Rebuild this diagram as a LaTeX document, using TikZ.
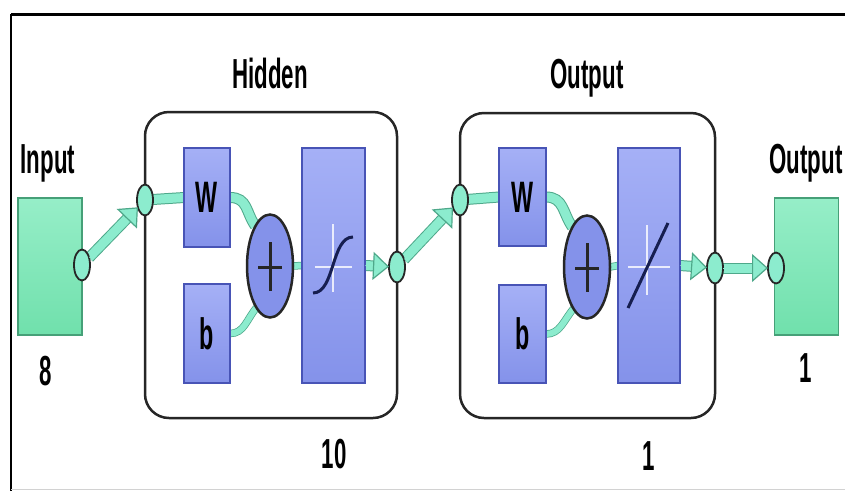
\documentclass[tikz,border=0pt]{standalone}
\usepackage{fontspec}
\setmainfont{Liberation Sans}
\usetikzlibrary{shapes.geometric,arrows.meta}
\pgfdeclarelayer{bg}
\pgfsetlayers{bg,main}
\definecolor{blk}{RGB}{132,146,234}
\definecolor{blkL}{RGB}{165,176,246}
\definecolor{blkD}{RGB}{72,84,182}
\definecolor{grnF}{RGB}{112,224,172}
\definecolor{grnL}{RGB}{150,238,200}
\definecolor{grnD}{RGB}{70,160,120}
\definecolor{wireG}{RGB}{140,236,206}
\definecolor{wireD}{RGB}{78,168,138}
\definecolor{ink}{RGB}{38,38,38}
\definecolor{navy}{RGB}{22,30,80}
\newcommand\narrow[1]{\scalebox{0.53}[1]{#1}}
\begin{document}
\begin{tikzpicture}[x=1pt,y=-1pt,
  lbl/.style={font=\fontsize{42}{42}\selectfont\bfseries, inner sep=0pt, anchor=base},
  blk/.style={draw=blkD, line width=1.5pt, top color=blkL, bottom color=blk, inner sep=0pt, outer sep=0pt, font=\fontsize{44}{44}\selectfont\bfseries},
  layer/.style={draw=ink, line width=2.5pt, rounded corners=24pt, fill=white, inner sep=0pt, outer sep=0pt},
  port/.style={ellipse, draw=ink, line width=1.8pt, fill=wireG, minimum width=16pt, minimum height=31pt, inner sep=0pt, outer sep=0pt},
  sum/.style={ellipse, draw=ink, line width=2.5pt, fill=blk, minimum width=46pt, minimum height=103pt, inner sep=0pt, outer sep=0pt},
  iobox/.style={draw=grnD, line width=1.5pt, top color=grnL, bottom color=grnF, inner sep=0pt, outer sep=0pt, minimum width=64pt, minimum height=137pt},
  wire/.style={line width=9pt, draw=wireG, preaction={draw=wireD, line width=11pt}},
  wirethin/.style={line width=6pt, draw=wireG, preaction={draw=wireD, line width=7.5pt}},
  tip/.style={draw=wireG, line width=0.5pt, -{Triangle[length=16pt,width=28pt,line width=1.2pt,color=wireD,fill=wireG]}},
  cross/.style={draw=white, line width=1.2pt, opacity=0.8},
]
\useasboundingbox (0,0) rectangle (845,491);
\begin{pgfonlayer}{bg}
  \fill[white] (0,0) rectangle (845,491);
  \draw[line width=3pt] (11,14) -- (845,14);
  \draw[line width=1.5pt] (11,14) -- (11,491);
  \draw[gray!35, line width=1pt] (11,489) -- (845,489);
  \node[layer, minimum width=252pt, minimum height=306pt] (L1) at (271,265) {};
  \node[layer, minimum width=255pt, minimum height=305pt] (L2) at (587.5,265.5) {};
\end{pgfonlayer}

% io boxes
\node[iobox] (inbox) at (50,266.5) {};
\node[iobox] (outbox) at (806.5,266.5) {};

% hidden layer blocks
\node[blk, minimum width=46pt, minimum height=99pt] (w1) at (207,197.5) {\narrow{W}};
\node[blk, minimum width=46pt, minimum height=99pt] (b1) at (207,333.5) {\narrow{b}};
\node[sum] (plus1) at (270,266) {};
\node[blk, minimum width=63pt, minimum height=235pt] (tf1) at (333.5,265.5) {};

% output layer blocks
\node[blk, minimum width=47pt, minimum height=98pt] (w2) at (522.5,197) {\narrow{W}};
\node[blk, minimum width=47pt, minimum height=98pt] (b2) at (522.5,334) {\narrow{b}};
\node[sum] (plus2) at (587,267) {};
\node[blk, minimum width=62pt, minimum height=235pt] (tf2) at (649,265.5) {};

% ports
\node[port] (inp) at (82,265) {};
\node[port] (hin) at (145,200) {};
\node[port] (hout) at (397,267) {};
\node[port] (oin) at (460,200) {};
\node[port] (oout) at (715,268) {};
\node[port] (tgt) at (776,268) {};

% symbols
\draw[ink, line width=3pt] (270,242) -- (270,291) (258,267) -- (282,267);
\draw[ink, line width=3pt] (587,243) -- (587,292) (575,268) -- (599,268);
\draw[cross] (315,267) -- (352,267) (333,224) -- (333,292);
\draw[navy, line width=3pt] (313,293) .. controls (335,293) and (331,237) .. (353,237);
\draw[cross] (628,267) -- (670,267) (647,225) -- (647,295);
\draw[navy, line width=3pt] (628,308) -- (668,223);

% labels
\node[lbl] (tIn) at (48,173) {\narrow{Input}};
\node[lbl] (tHid) at (270,88) {\narrow{Hidden}};
\node[lbl] (tOutL) at (587,88) {\narrow{Output}};
\node[lbl] (tOut) at (806,173) {\narrow{Output}};
\node[lbl] (n8) at (46,385) {\narrow{8}};
\node[lbl] (n10) at (334,468) {\narrow{10}};
\node[lbl] (n1a) at (649,470) {\narrow{1}};
\node[lbl] (n1b) at (806,382) {\narrow{1}};

% wires (behind nodes)
\begin{pgfonlayer}{bg}
  \draw[wire, shorten >=15pt] (inp) -- (hin);
  \draw[wire] (hin) -- (w1.west);
  \draw[wire] (w1.east) .. controls +(18,0) and +(-10,-14) .. (plus1.110);
  \draw[wirethin] (b1.east) .. controls +(14,0) and +(-10,12) .. (plus1.-108);
  \draw[wirethin] (plus1.east) -- (tf1.west);
  \draw[wire, shorten >=15pt] (tf1.east) -- (hout);
  \draw[wire, shorten >=15pt] (hout) -- (oin);
  \draw[wire] (oin) -- (w2.west);
  \draw[wire] (w2.east) .. controls +(18,0) and +(-10,-14) .. (plus2.110);
  \draw[wirethin] (b2.east) .. controls +(14,0) and +(-10,12) .. (plus2.-108);
  \draw[wirethin] (plus2.east) -- (tf2.west);
  \draw[wire, shorten >=15pt] (tf2.east) -- (oout);
  \draw[wire, shorten >=15pt] (oout) -- (tgt);
\end{pgfonlayer}

% arrow tips
\draw[tip] (inp) -- (hin);
\draw[tip] (tf1.east) -- (hout);
\draw[tip] (hout) -- (oin);
\draw[tip] (tf2.east) -- (oout);
\draw[tip] (oout) -- (tgt);
\end{tikzpicture}
\end{document}
